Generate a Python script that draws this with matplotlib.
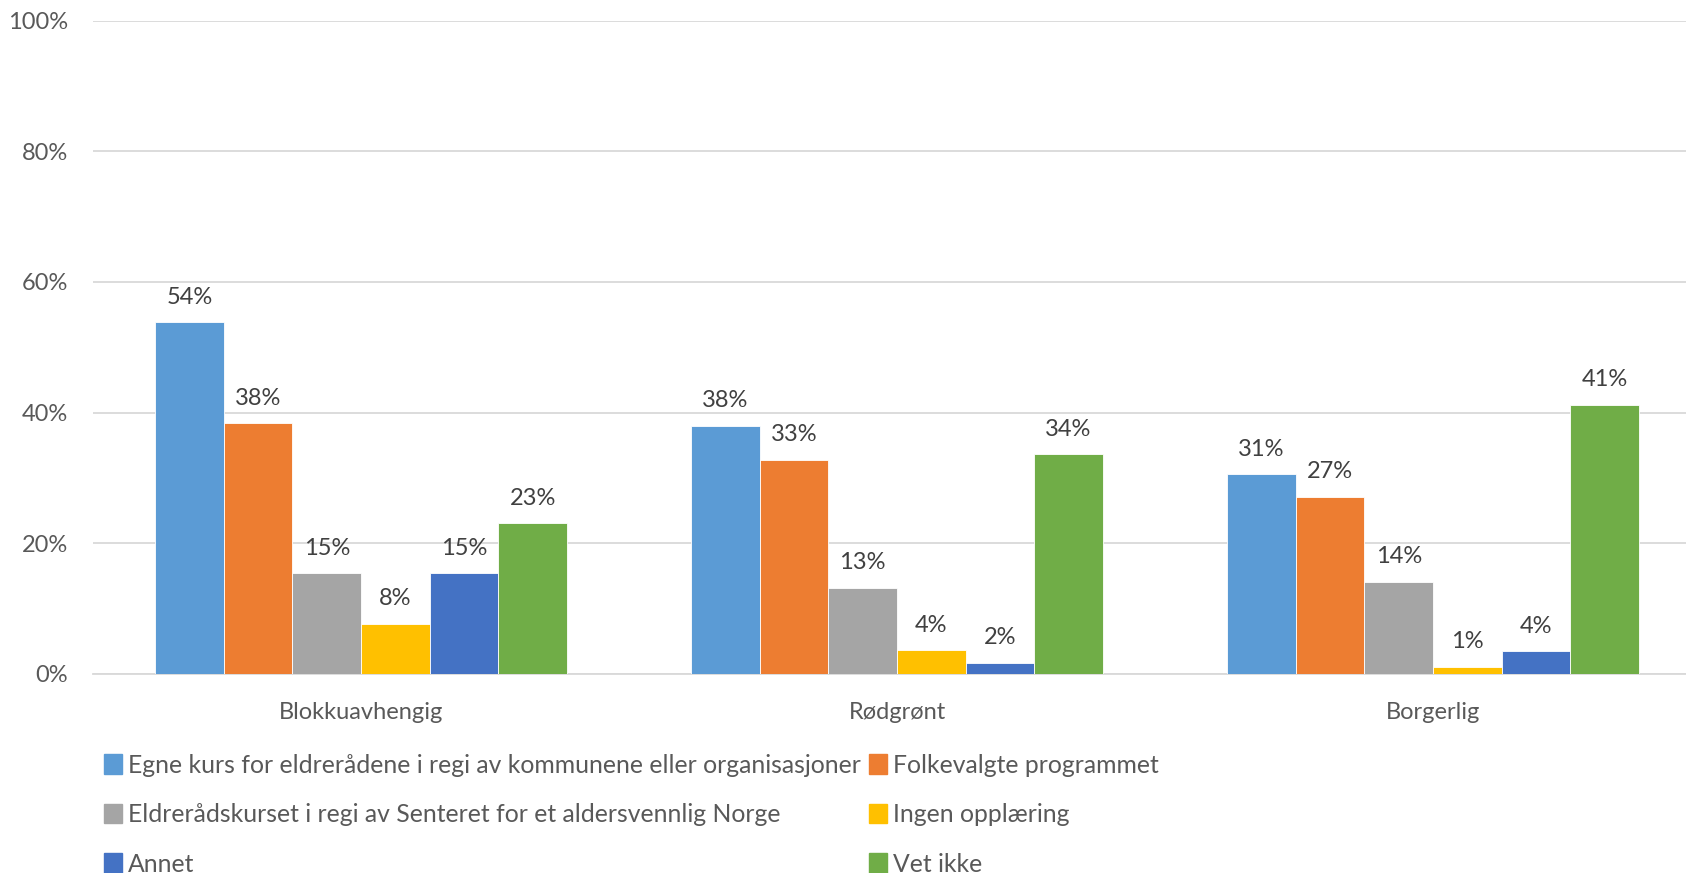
import matplotlib.pyplot as plt
import numpy as np
from matplotlib.patches import Patch

groups = ['Blokkuavhengig', 'Rødgrønt', 'Borgerlig']
series = ['Egne kurs for eldrerådene i regi av kommunene eller organisasjoner',
          'Folkevalgte programmet',
          'Eldrerådskurset i regi av Senteret for et aldersvennlig Norge',
          'Ingen opplæring',
          'Annet',
          'Vet ikke']
colors = ['#5b9bd5', '#ed7d31', '#a5a5a5', '#ffc000', '#4472c4', '#70ad47']

egne = [53.8, 38.0, 30.6]
folkevalgte = [38.4, 32.8, 27.1]
eldreradskurs = [15.4, 13.2, 14.1]
ingen = [7.7, 3.6, 1.1]
annet = [15.4, 1.7, 3.5]
vet_ikke = [23.1, 33.6, 41.2]
values = [egne, folkevalgte, eldreradskurs, ingen, annet, vet_ikke]

yticks = [0, 20, 40, 60, 80, 100]

plt.rcParams['font.family'] = ['Lato', 'DejaVu Sans']
fs = 17
fs_leg = 17.8

fig = plt.figure(figsize=(16.86, 8.73), dpi=100)
ax = fig.add_axes([0.0552, 0.228, 0.9537, 0.7485])

x = np.arange(len(groups))
w = 0.128
for i, (vals, c) in enumerate(zip(values, colors)):
    pos = x + (i - 2.5) * w
    ax.bar(pos, vals, w, color=c, edgecolor='white', linewidth=0.6, zorder=3)
    for px, v in zip(pos, vals):
        ax.text(px, v + 2.2, f'{v:.0f}%', ha='center', va='bottom',
                fontsize=fs, color='#404040')

ax.set_xlim(-0.5, 2.5)
ax.set_ylim(0, 100)
ax.set_yticks(yticks)
ax.set_yticklabels([f'{t}%' for t in yticks])
ax.set_xticks(x)
ax.set_xticklabels(groups)
ax.grid(axis='y', color='#d9d9d9', linewidth=1.3, zorder=0)
for s in ['top', 'right', 'left']:
    ax.spines[s].set_visible(False)
ax.spines['bottom'].set_color('#d9d9d9')
ax.spines['bottom'].set_linewidth(1.3)
ax.tick_params(axis='both', length=0, labelsize=fs, colors='#595959')
ax.tick_params(axis='y', pad=18)
ax.tick_params(axis='x', pad=20)

# legend fills column-wise, so order the handles to read row by row
order = [0, 2, 4, 1, 3, 5]
handles = [Patch(color=colors[i], label=series[i]) for i in order]
fig.legend(handles=handles, ncol=2, loc='upper left',
           bbox_to_anchor=(0.056, 0.148), frameon=False, fontsize=fs_leg,
           labelcolor='#595959', handlelength=0.7, handleheight=0.85,
           handletextpad=0.25, columnspacing=0.35, labelspacing=1.07,
           borderaxespad=0)

fig.savefig('out.png', dpi=100)
